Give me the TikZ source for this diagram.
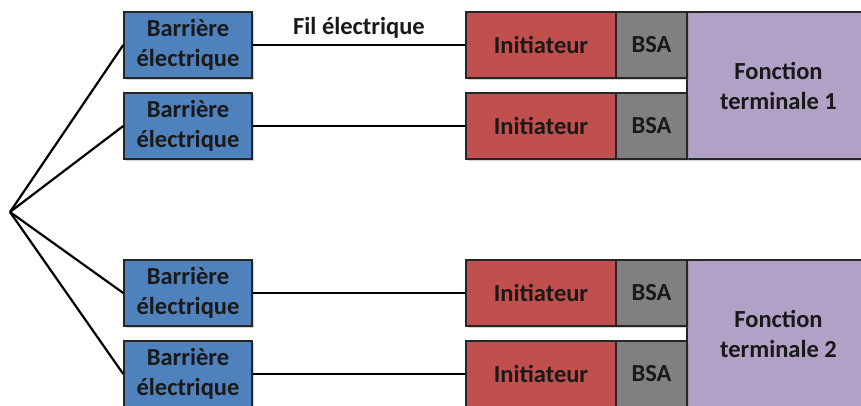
\documentclass[tikz,border=0pt]{standalone}
\usepackage{fontspec}
\setmainfont{Carlito}
\usetikzlibrary{shadows}
\definecolor{barrierblue}{HTML}{4F81BD}
\definecolor{initred}{HTML}{C0504D}
\definecolor{bsagray}{HTML}{808080}
\definecolor{fctpurple}{HTML}{B2A1C7}
\tikzstyle{box}=[draw=black!85,line width=1.5pt,inner sep=0pt,align=center,
  font=\bfseries\fontsize{24.5}{30}\selectfont,text=black!90,
  drop shadow={opacity=0.35,shadow xshift=1.5pt,shadow yshift=-1.5pt}]

\begin{document}
\begin{tikzpicture}[x=1pt,y=-1pt]
    \tikzstyle{barrier}=[box,fill=barrierblue,minimum width=128pt,minimum height=66pt]
    \tikzstyle{init}=[box,fill=initred,minimum width=150pt,minimum height=66pt]
    \tikzstyle{bsa}=[box,fill=bsagray,minimum width=71pt,minimum height=66pt]
    \tikzstyle{fct}=[box,fill=fctpurple,minimum width=183pt,minimum height=147pt]
    \tikzstyle{wire}=[line width=2.2pt,black]
    \useasboundingbox (0,0) rectangle (861,405);
    \clip (0,0) rectangle (861,405);
    % terminal functions
    \node[fct] (F1) at (778.5,85.5)  {Fonction\\terminale 1};
    \node[fct] (F2) at (778.5,333.5) {Fonction\\terminale 2};
    % initiators and BSA
    \node[init] (I1) at (541,45)  {Initiateur};
    \node[init] (I2) at (541,126) {Initiateur};
    \node[init] (I3) at (541,293) {Initiateur};
    \node[init] (I4) at (541,374) {Initiateur};
    \node[bsa] (S1) at (651.5,45)  {BSA};
    \node[bsa] (S2) at (651.5,126) {BSA};
    \node[bsa] (S3) at (651.5,293) {BSA};
    \node[bsa] (S4) at (651.5,374) {BSA};
    % barriers
    \node[barrier] (B1) at (188,45)  {Barrière\\électrique};
    \node[barrier] (B2) at (188,126) {Barrière\\électrique};
    \node[barrier] (B3) at (188,293) {Barrière\\électrique};
    \node[barrier] (B4) at (188,374) {Barrière\\électrique};
    \coordinate (O) at (10,212);
    \draw[wire] (O) -- (B1.west);
    \draw[wire] (O) -- (B2.west);
    \draw[wire] (O) -- (B3.west);
    \draw[wire] (O) -- (B4.west);
    \draw[wire] (B1) -- node[midway,yshift=17pt,font=\bfseries\fontsize{24.5}{30}\selectfont,text=black!90] (L) {Fil électrique} (I1);
    \draw[wire] (B2) -- (I2);
    \draw[wire] (B3) -- (I3);
    \draw[wire] (B4) -- (I4);
\end{tikzpicture}
\end{document}
